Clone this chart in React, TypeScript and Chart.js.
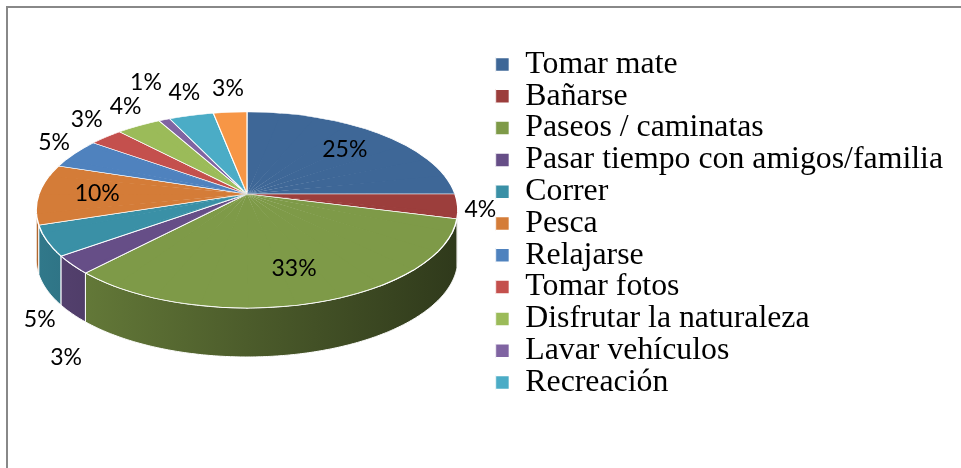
import React, { useEffect, useRef } from 'react';
import { Chart, registerables } from 'chart.js';

Chart.register(...registerables);

const categories = [
  'Tomar mate',
  'Bañarse',
  'Paseos / caminatas',
  'Pasar tiempo con amigos/familia',
  'Correr',
  'Pesca',
  'Relajarse',
  'Tomar fotos',
  'Disfrutar la naturaleza',
  'Lavar vehículos',
  'Recreación',
  'Otros',
];
const values = [25, 4, 33, 3, 5, 10, 5, 3, 4, 1, 4, 3];
const colors = [
  '#3E6797', '#9C3E3C', '#7E9A48', '#664E87', '#3A90A6', '#D47C38',
  '#4F82BE', '#C4504D', '#9BBB59', '#8064A2', '#4BACC6', '#F79646',
];
const legendCount = 11;

// 3D view (perspective projection of the pie disk)
const VIEW = { cx: 247, cy: 194, A: 208, B: 95.4, s: 0.163, depth: 49 };

function proj(u: number, v: number): [number, number] {
  const d = 1 - VIEW.s * v;
  return [VIEW.cx + (VIEW.A * u) / d, VIEW.cy + (VIEW.B * v) / d];
}

function shade(hex: string, f: number) {
  const n = parseInt(hex.slice(1), 16);
  const r = Math.round(((n >> 16) & 255) * f);
  const g = Math.round(((n >> 8) & 255) * f);
  const b = Math.round((n & 255) * f);
  return `rgb(${r},${g},${b})`;
}

const pie3d = {
  id: 'pie3d',
  beforeDraw(chart: any) {
    const ctx = chart.ctx;
    ctx.save();
    ctx.fillStyle = '#ffffff';
    ctx.fillRect(0, 0, chart.width, chart.height);
    ctx.strokeStyle = '#888888';
    ctx.lineWidth = 2;
    ctx.strokeRect(7, 7, chart.width + 20, chart.height + 20);
    ctx.restore();
  },
  beforeDatasetsDraw(chart: any) {
    const ctx = chart.ctx;
    const meta = chart.getDatasetMeta(0);
    const arcs = meta.data as any[];
    if (!arcs.length) return;
    const ox = arcs[0].x;
    const oy = arcs[0].y;
    const R = arcs[0].outerRadius;
    const aMin = Math.asin(VIEW.s);
    const aMax = Math.PI - aMin;

    // side walls
    arcs.forEach((arc: any, i: number) => {
      const a1 = Math.max(arc.startAngle, aMin);
      const a2 = Math.min(arc.endAngle, aMax);
      if (a2 <= a1) return;
      const steps = Math.max(4, Math.ceil((a2 - a1) / 0.01));
      ctx.save();
      ctx.beginPath();
      for (let k = 0; k <= steps; k++) {
        const a = a1 + ((a2 - a1) * k) / steps;
        const [x, y] = proj(Math.cos(a), Math.sin(a));
        if (k === 0) ctx.moveTo(x, y);
        else ctx.lineTo(x, y);
      }
      for (let k = steps; k >= 0; k--) {
        const a = a1 + ((a2 - a1) * k) / steps;
        const [x, y] = proj(Math.cos(a), Math.sin(a));
        ctx.lineTo(x, y + VIEW.depth);
      }
      ctx.closePath();
      const g = ctx.createLinearGradient(VIEW.cx - VIEW.A * 1.02, 0, VIEW.cx + VIEW.A * 1.02, 0);
      g.addColorStop(0, shade(colors[i], 0.84));
      g.addColorStop(0.5, shade(colors[i], 0.6));
      g.addColorStop(1, shade(colors[i], 0.37));
      ctx.fillStyle = g;
      ctx.fill();
      ctx.strokeStyle = '#ffffff';
      ctx.lineWidth = 1;
      ctx.stroke();
      ctx.restore();
    });

    // top faces: Chart.js arcs drawn through piecewise-linear approximations of the projection
    const N = 32;
    const step = (2 * Math.PI) / N;
    const ov = 0.005;
    for (let k = 0; k < N; k++) {
      const p0 = -Math.PI / 2 + k * step - ov;
      const p1 = -Math.PI / 2 + (k + 1) * step + ov;
      const c0 = Math.cos(p0), n0 = Math.sin(p0);
      const c1 = Math.cos(p1), n1 = Math.sin(p1);
      const q0 = proj(c0, n0);
      const q1 = proj(c1, n1);
      const s0x = q0[0] - VIEW.cx, s0y = q0[1] - VIEW.cy;
      const s1x = q1[0] - VIEW.cx, s1y = q1[1] - VIEW.cy;
      const det = c0 * n1 - c1 * n0;
      const L00 = (s0x * n1 - s1x * n0) / det;
      const L01 = (-s0x * c1 + s1x * c0) / det;
      const L10 = (s0y * n1 - s1y * n0) / det;
      const L11 = (-s0y * c1 + s1y * c0) / det;
      const M00 = L00 / R, M01 = L01 / R, M10 = L10 / R, M11 = L11 / R;
      const ex = VIEW.cx - (M00 * ox + M01 * oy);
      const ey = VIEW.cy - (M10 * ox + M11 * oy);
      ctx.save();
      ctx.beginPath();
      ctx.moveTo(VIEW.cx, VIEW.cy);
      ctx.lineTo(VIEW.cx + 3 * s0x, VIEW.cy + 3 * s0y);
      ctx.lineTo(VIEW.cx + 3 * s1x, VIEW.cy + 3 * s1y);
      ctx.closePath();
      ctx.clip();
      ctx.transform(M00, M10, M01, M11, ex, ey);
      meta.controller.draw();
      ctx.restore();
    }
    return false;
  },
  afterDraw(chart: any) {
    const ctx = chart.ctx;
    const meta = chart.getDatasetMeta(0);
    const arcs = meta.data as any[];
    const total = values.reduce((a, b) => a + b, 0);
    const aMin = Math.asin(VIEW.s);
    const aMax = Math.PI - aMin;
    ctx.save();
    ctx.font = '23px Lato, "Open Sans", sans-serif';
    ctx.fillStyle = '#000000';
    ctx.textAlign = 'center';
    ctx.textBaseline = 'middle';
    const placed: { x: number; y: number; w: number; h: number }[] = [];
    const h = 18;
    arcs.forEach((arc: any, i: number) => {
      const pct = Math.round((values[i] / total) * 100);
      const text = pct + '%';
      const w = ctx.measureText(text).width;
      const mid = (arc.startAngle + arc.endAngle) / 2;
      const c = Math.cos(mid);
      const sn = Math.sin(mid);
      let x: number, y: number;
      if (pct >= 10) {
        [x, y] = proj(0.72 * c, 0.72 * sn);
      } else {
        let [px, py] = proj(c, sn);
        const front = mid > aMin && mid < aMax;
        if (front) {
          py += VIEW.depth;
          x = px + c * 8;
          y = py + sn * 66;
        } else {
          x = px + c * (w / 2 + 7);
          y = py + sn * 24;
        }
        let guard = 0;
        const hits = () =>
          placed.some(
            (b) => Math.abs(b.x - x) < (b.w + w) / 2 + 4 && Math.abs(b.y - y) < (b.h + h) / 2 + 4
          );
        while (hits() && guard++ < 60) {
          x += c * 3;
          y += sn * 3;
        }
      }
      placed.push({ x, y, w, h });
      ctx.fillText(text, x, y);
    });
    ctx.restore();
  },
};

export default function App() {
  const ref = useRef<HTMLCanvasElement | null>(null);
  useEffect(() => {
    document.body.style.margin = '0';
    const canvas = ref.current;
    if (!canvas) return;
    const chart = new Chart(canvas, {
      type: 'pie',
      data: {
        labels: categories,
        datasets: [
          {
            data: values,
            backgroundColor: colors,
            borderColor: '#ffffff',
            borderWidth: 1.5,
          },
        ],
      },
      options: {
        animation: false,
        responsive: false,
        maintainAspectRatio: false,
        devicePixelRatio: 1,
        events: [],
        layout: { padding: { right: 8, bottom: 21 } },
        plugins: {
          legend: {
            position: 'right',
            labels: {
              boxWidth: 14,
              boxHeight: 14,
              padding: 0,
              color: '#000000',
              font: { family: '"Liberation Serif", "Times New Roman", serif', size: 31.8 },
              filter: (item: any) => item.index < legendCount,
            },
          },
          tooltip: { enabled: false },
        },
      } as any,
      plugins: [pie3d as any],
    });
    return () => chart.destroy();
  }, []);
  return (
    <div style={{ width: 961, height: 468 }}>
      <canvas ref={ref} width={961} height={468} style={{ display: 'block' }} />
    </div>
  );
}
